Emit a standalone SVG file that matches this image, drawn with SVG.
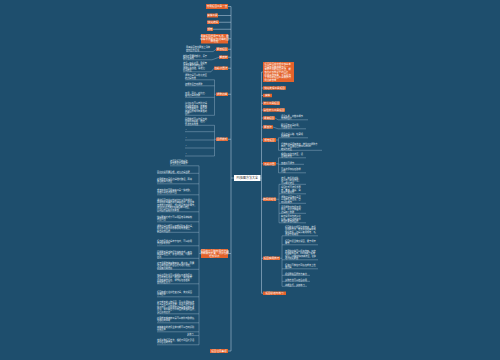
<svg xmlns="http://www.w3.org/2000/svg" width="500" height="360" viewBox="0 0 500 360">
<style>
.bg{fill:#1e4e6d}
.n{fill:#e4632b}
.nt{fill:#ffffff;font-family:"Noto Sans CJK SC","Noto Sans",sans-serif;font-size:2.6px;text-anchor:middle}
.nl{fill:#ffffff;font-family:"Noto Sans CJK SC","Noto Sans",sans-serif;font-size:2.4px}
.lt{fill:#e3ecf3;font-family:"Noto Sans CJK SC","Noto Sans",sans-serif;font-size:2.2px}
.c{stroke:#a9c3d6;stroke-width:0.6;fill:none}
.u{stroke:#a9c3d6;stroke-width:0.4;fill:none}
</style>
<rect class="bg" x="0" y="0" width="500" height="360"/>

<g id="connectors">
<path class="c" d="M231 6.5V351M231 178H234M261.5 72V293.25M260.5 178H261.5"/>
<path class="c" d="M228 6.5H231M218 15.5H231M219 22.25H231M213 29.25H231M228 38.75H231M228 49.25H231M228 57.25H231M228 68.25H231M228 94.25H231M228 139.25H231M228 253.5H231M228 351H231"/>
<path class="c" d="M261.5 72H263M261.5 88H263M261.5 95.5H263M261.5 103.25H263M261.5 110H263M261.5 118H263M261.5 127H263M261.5 140H263M261.5 163.75H263M261.5 199.25H263M261.5 258.25H263M261.5 293.25H263"/>
<path class="u" d="M186 51.6H213L216 49.25M183 59.8H212L219 57.25M183 71.8H211L214 68.25"/>
<path class="u" d="M185 79.8H214.5M185 85.8H214.5M185 97.3H214.5M185 115.3H214.5M214.5 79.8V115.3M214.5 94.25H216"/>
<path class="u" d="M185 125.3H214.5M185 131.7H214.5M185 140H214.5M185 148H214.5M185 156H214.5M214.5 125.3V156M214.5 139.25H216"/>
<path class="u" d="M170 165.8H199M157 173.3H199M157 183.8H199M157 194.8H199M157 211.8H199M157 221.8H199M157 232.3H199M157 245.8H199M157 258.3H199M157 269.3H199M157 283.8H199M157 296.8H199M157 313.8H199M157 322.8H199M157 331.8H199M187 335.6H199M157 344.8H199M199 165.8V344.8M199 253.5H201"/>
<path class="u" d="M275 118L278 119.8H308M273 127L278 128.8H306"/>
<path class="u" d="M276 140H278.5M278.5 137.8V150.3M278.5 137.8H308M278.5 150.3H322"/>
<path class="u" d="M276 163.75H278.5M278.5 157.8V172.8M278.5 157.8H306M278.5 164.3H304M278.5 172.8H306"/>
<path class="u" d="M276 199.25H279M279 184.3V222.8M279 184.3H306M279 193.8H306M279 203.3H306M279 213.3H306M279 222.8H306"/>
<path class="u" d="M280 258.25H282M282 235.8V286.3M282 235.8H318M282 244.8H318M282 259.8H318M282 268.8H318M282 275.3H310M282 281.3H310M282 286.3H307"/>
</g>

<g id="n-center">
<rect x="234" y="175" width="26.5" height="6" fill="#ffffff"/>
<text x="247.25" y="179" style="fill:#333;font-family:'Noto Sans CJK SC',sans-serif;font-size:3px;text-anchor:middle">PS抠图方法大全</text>
</g>

<g id="n-l1"><rect class="n" x="206" y="4" width="22" height="5"/><text class="nt" x="217" y="7.4">常用抠图工具一览</text></g>
<g id="n-l2"><rect class="n" x="207" y="13.5" width="11" height="4"/><text class="nt" x="212.5" y="16.4">魔棒工具</text></g>
<g id="n-l3"><rect class="n" x="207" y="20.5" width="12" height="3.5"/><text class="nt" x="213" y="23.2">快速选择</text></g>
<g id="n-l4"><rect class="n" x="207" y="27.5" width="6" height="3.5"/><text class="nt" x="210" y="30.2">钢笔</text></g>
<g id="n-l5"><rect class="n" x="201" y="34" width="27" height="9.5"/><text class="nt" x="214.5" y="36.7"><tspan x="214.5">通道抠图适用于毛发、婚</tspan><tspan x="214.5" dy="2.8">纱等半透明复杂边缘的图</tspan><tspan x="214.5" dy="2.8">像处理</tspan></text></g>
<g id="n-l6"><rect class="n" x="216" y="47.5" width="12" height="3.5"/><text class="nt" x="222" y="50.2">蒙版抠图</text>
<text class="lt" x="186" y="48.3"><tspan x="186">用黑白画笔在蒙版上涂抹</tspan><tspan x="186" dy="2.5">控制显示区域</tspan></text></g>
<g id="n-l7"><rect class="n" x="219" y="55.5" width="9" height="3.5"/><text class="nt" x="223.5" y="58.2">橡皮擦</text>
<text class="lt" x="183" y="56.5"><tspan x="183">擦除不需要的部分，属于</tspan><tspan x="183" dy="2.5">破坏性编辑</tspan></text></g>
<g id="n-l8"><rect class="n" x="214" y="66.5" width="14" height="3.5"/><text class="nt" x="221" y="69.2">色彩范围法</text>
<text class="lt" x="183" y="63.5"><tspan x="183">选择—色彩范围，用吸管</tspan><tspan x="183" dy="2.5">点击需要选取的颜色，</tspan><tspan x="183" dy="2.5">调整颜色容差，确定后</tspan><tspan x="183" dy="2.5">得到选区</tspan></text></g>
<g id="n-l9"><rect class="n" x="216" y="92.5" width="12" height="3.5"/><text class="nt" x="222" y="95.2">调整边缘</text>
<text class="lt" x="185" y="76"><tspan x="185">调整边缘可以优化选区</tspan><tspan x="185" dy="2.5">的边缘效果</tspan></text>
<text class="lt" x="185" y="85">智能半径自动调整</text>
<text class="lt" x="185" y="93.5"><tspan x="185">平滑、羽化、对比度、</tspan><tspan x="185" dy="2.5">移动边缘等参数</tspan></text>
<text class="lt" x="185" y="104"><tspan x="185">净化颜色可以去除边缘</tspan><tspan x="185" dy="2.5">残留的背景色，数量越</tspan><tspan x="185" dy="2.5">大效果越明显，输出到</tspan><tspan x="185" dy="2.5">新建图层或带有蒙版的</tspan><tspan x="185" dy="2.5">图层</tspan></text></g>
<g id="n-l10"><rect class="n" x="216" y="137.5" width="12" height="3.5"/><text class="nt" x="222" y="140.2">图层样式</text>
<text class="lt" x="185" y="119.5"><tspan x="185">图层样式可以为抠出的</tspan><tspan x="185" dy="2.5">图像添加投影、描边、</tspan><tspan x="185" dy="2.5">外发光等效果</tspan></text>
<text class="lt" x="185" y="131.1">•</text><text class="lt" x="185" y="139.4">•</text><text class="lt" x="185" y="147.4">•</text><text class="lt" x="185" y="155.4">•</text></g>
<g id="n-l11"><rect class="n" x="201" y="249" width="27" height="9"/><text class="nt" x="214.5" y="251.6"><tspan x="214.5">抠图的十几种常用方法和</tspan><tspan x="214.5" dy="2.7">详细操作步骤，新手也能</tspan><tspan x="214.5" dy="2.7">轻松学会</tspan></text>
<text class="lt" x="170" y="161.5"><tspan x="170">选区是抠图的基础，</tspan><tspan x="170" dy="2.5">建立选区后再操作</tspan></text>
<text class="lt" x="157" y="172.5">羽化值设置要合理，避免边缘生硬</text>
<text class="lt" x="157" y="179.5"><tspan x="157">使用钢笔工具沿边缘描绘路径，再将</tspan><tspan x="157" dy="2.5">路径转换为选区</tspan></text>
<text class="lt" x="157" y="190.5"><tspan x="157">背景简单时可用魔棒工具一键选取，</tspan><tspan x="157" dy="2.5">容差值决定选取范围</tspan></text>
<text class="lt" x="157" y="200.5"><tspan x="157">通道抠图时先复制对比度最强的通道，</tspan><tspan x="157" dy="2.5">再用色阶或曲线加强黑白对比，使主体</tspan><tspan x="157" dy="2.5">与背景分离明显，然后用画笔修补细节，</tspan><tspan x="157" dy="2.5">按住Ctrl点击通道缩略图载入选区，</tspan><tspan x="157" dy="2.5">回到图层面板添加蒙版</tspan></text>
<text class="lt" x="157" y="217.5"><tspan x="157">快速蒙版模式下可以用画笔涂抹编辑</tspan><tspan x="157" dy="2.5">选区范围</tspan></text>
<text class="lt" x="157" y="226.5"><tspan x="157">调整边缘功能可以智能识别毛发边缘，</tspan><tspan x="157" dy="2.5">配合半径和平滑参数使用效果更佳，</tspan><tspan x="157" dy="2.5">输出到新图层</tspan></text>
<text class="lt" x="157" y="241.5"><tspan x="157">抠出的图像边缘有杂色时，可以使用</tspan><tspan x="157" dy="2.5">去边命令去除</tspan></text>
<text class="lt" x="157" y="252.5"><tspan x="157">图层蒙版是非破坏性编辑方式，黑色</tspan><tspan x="157" dy="2.5">隐藏白色显示，灰色半透明，可随时</tspan><tspan x="157" dy="2.5">修改</tspan></text>
<text class="lt" x="157" y="263.5"><tspan x="157">对于透明物体如玻璃杯、婚纱等，需要</tspan><tspan x="157" dy="2.5">结合通道和图层混合模式进行处理，</tspan><tspan x="157" dy="2.5">保留其透明质感</tspan></text>
<text class="lt" x="157" y="275.5"><tspan x="157">色彩范围命令可以根据颜色选取区域，</tspan><tspan x="157" dy="2.5">适合背景颜色单一的图片，通过吸管</tspan><tspan x="157" dy="2.5">添加或减去颜色，调节颜色容差来</tspan><tspan x="157" dy="2.5">控制选区大小</tspan></text>
<text class="lt" x="157" y="292.5"><tspan x="157">抠图完成后注意检查边缘，放大视图</tspan><tspan x="157" dy="2.5">仔细修整</tspan></text>
<text class="lt" x="157" y="302.5"><tspan x="157">复杂背景的人物抠图，可以先用快速选</tspan><tspan x="157" dy="2.5">择工具大致选出主体，再进入选择并遮</tspan><tspan x="157" dy="2.5">住工作区，使用调整边缘画笔涂抹头发</tspan><tspan x="157" dy="2.5">区域，设置输出为带有图层蒙版的图层，</tspan><tspan x="157" dy="2.5">最后手动修补</tspan></text>
<text class="lt" x="157" y="318.5"><tspan x="157">使用背景橡皮擦工具可以擦除与取样颜</tspan><tspan x="157" dy="2.5">色相近的像素</tspan></text>
<text class="lt" x="157" y="327.5"><tspan x="157">新版本中的选择主体功能可以自动识别</tspan><tspan x="157" dy="2.5">画面主体</tspan></text>
<text class="lt" x="187" y="334.8">多练习</text>
<text class="lt" x="157" y="340.5"><tspan x="157">掌握多种抠图方法，根据不同图片灵活</tspan><tspan x="157" dy="2.5">选择合适的方法</tspan></text></g>
<g id="n-l12"><rect class="n" x="210" y="349" width="18" height="4"/><text class="nt" x="219" y="351.9">抠图注意事项</text></g>

<g id="n-r1"><rect class="n" x="263" y="62" width="31" height="20"/><text class="nl" x="264.5" y="64.9"><tspan x="264.5">抠图是图像处理中最基本</tspan><tspan x="264.5" dy="2.7">也是最重要的操作之一，</tspan><tspan x="264.5" dy="2.7">掌握不同的抠图方法，能</tspan><tspan x="264.5" dy="2.7">够应对各种复杂的图片，</tspan><tspan x="264.5" dy="2.7">提高工作效率，下面总结</tspan><tspan x="264.5" dy="2.7">了常用的抠图工具和技巧</tspan><tspan x="264.5" dy="2.7">供大家参考</tspan></text></g>
<g id="n-r2"><rect class="n" x="263" y="86.25" width="23" height="3.5"/><text class="nt" x="274.5" y="88.95">快速选择工具抠图</text></g>
<g id="n-r3"><rect class="n" x="263" y="93.75" width="9" height="3.5"/><text class="nt" x="267.5" y="96.45">魔棒</text></g>
<g id="n-r4"><rect class="n" x="263" y="101.5" width="17" height="3.5"/><text class="nt" x="271.5" y="104.2">套索工具抠图</text></g>
<g id="n-r5"><rect class="n" x="263" y="108.25" width="22" height="3.5"/><text class="nt" x="274" y="110.95">磁性套索工具抠图</text></g>
<g id="n-r6"><rect class="n" x="263" y="116.25" width="12" height="3.5"/><text class="nt" x="269" y="118.95">通道抠图</text>
<text class="lt" x="281" y="116.5"><tspan x="281">适合毛发、树枝等细节</tspan><tspan x="281" dy="2.5">丰富的图片</tspan></text></g>
<g id="n-r7"><rect class="n" x="263" y="125.25" width="10" height="3.5"/><text class="nt" x="268" y="127.95">蒙版法</text>
<text class="lt" x="281" y="125.5"><tspan x="281">配合画笔工具使用，</tspan><tspan x="281" dy="2.5">可反复修改</tspan></text></g>
<g id="n-r8"><rect class="n" x="263" y="138" width="13" height="4"/><text class="nt" x="269.5" y="140.9">钢笔抠图</text>
<text class="lt" x="281" y="134.5"><tspan x="281">适合边缘清晰、轮廓规</tspan><tspan x="281" dy="2.5">则的物体</tspan></text>
<text class="lt" x="281" y="144.5"><tspan x="281">沿物体边缘添加锚点，按住Ctrl调整方</tspan><tspan x="281" dy="2.5">向线，闭合路径后按Ctrl+Enter</tspan><tspan x="281" dy="2.5">转换为选区</tspan></text></g>
<g id="n-r9"><rect class="n" x="263" y="162" width="13" height="3.5"/><text class="nt" x="269.5" y="164.7">色彩范围</text>
<text class="lt" x="281" y="154.5"><tspan x="281">根据颜色建立选区，适</tspan><tspan x="281" dy="2.5">合纯色背景</tspan></text>
<text class="lt" x="281" y="163.5">容差值可调节</text>
<text class="lt" x="281" y="169.5"><tspan x="281">可多次添加颜色取样</tspan><tspan x="281" dy="2.5">范围</tspan></text></g>
<g id="n-r10"><rect class="n" x="263" y="197.5" width="13" height="3.5"/><text class="nt" x="269.5" y="200.2">选择并遮住</text>
<text class="lt" x="281" y="178.5"><tspan x="281">选择—选择并遮住，</tspan><tspan x="281" dy="2.5">进入专门的工作区，</tspan><tspan x="281" dy="2.5">可以细化选区</tspan></text>
<text class="lt" x="281" y="188"><tspan x="281">视图模式可选择洋葱</tspan><tspan x="281" dy="2.5">皮、叠加、黑底、白</tspan><tspan x="281" dy="2.5">底等方便观察</tspan></text>
<text class="lt" x="281" y="197.5"><tspan x="281">调整边缘画笔工具可</tspan><tspan x="281" dy="2.5">以涂抹毛发区域，自</tspan><tspan x="281" dy="2.5">动识别细节</tspan></text>
<text class="lt" x="281" y="207.5"><tspan x="281">全局调整中包括平滑、</tspan><tspan x="281" dy="2.5">羽化、对比度和移动</tspan><tspan x="281" dy="2.5">边缘四个参数</tspan></text>
<text class="lt" x="281" y="217"><tspan x="281">输出设置中勾选净化</tspan><tspan x="281" dy="2.5">颜色，输出到新建带</tspan><tspan x="281" dy="2.5">有图层蒙版的图层</tspan></text></g>
<g id="n-r11"><rect class="n" x="263" y="256.5" width="17" height="3.5"/><text class="nt" x="271.5" y="259.2">抠图实用技巧</text>
<text class="lt" x="285" y="227.5"><tspan x="285">抠图前先分析图片的特点，选择</tspan><tspan x="285" dy="2.5">合适的方法，背景简单用魔棒或</tspan><tspan x="285" dy="2.5">快速选择，边缘清晰用钢笔，毛</tspan><tspan x="285" dy="2.5">发复杂用通道</tspan></text>
<text class="lt" x="285" y="241.5"><tspan x="285">抠图时适当放大视图，便于观察</tspan><tspan x="285" dy="2.5">细节</tspan></text>
<text class="lt" x="285" y="251.5"><tspan x="285">善用快捷键可以提高效率，如空</tspan><tspan x="285" dy="2.5">格键移动画布，Ctrl加减号缩放</tspan><tspan x="285" dy="2.5">视图，Alt键切换加减选区，Q键</tspan><tspan x="285" dy="2.5">进入快速蒙版</tspan></text>
<text class="lt" x="285" y="265.5"><tspan x="285">抠完后可放在不同颜色背景上检</tspan><tspan x="285" dy="2.5">查边缘</tspan></text>
<text class="lt" x="285" y="274.5">保留原始图层作为备份</text>
<text class="lt" x="285" y="280.5">多种方法可以结合使用</text>
<text class="lt" x="285" y="285.5">熟能生巧，多加练习</text></g>
<g id="n-r12"><rect class="n" x="263" y="291.5" width="23" height="3.5"/><text class="nt" x="274.5" y="294.2">抠图总结与练习</text></g>
</svg>
